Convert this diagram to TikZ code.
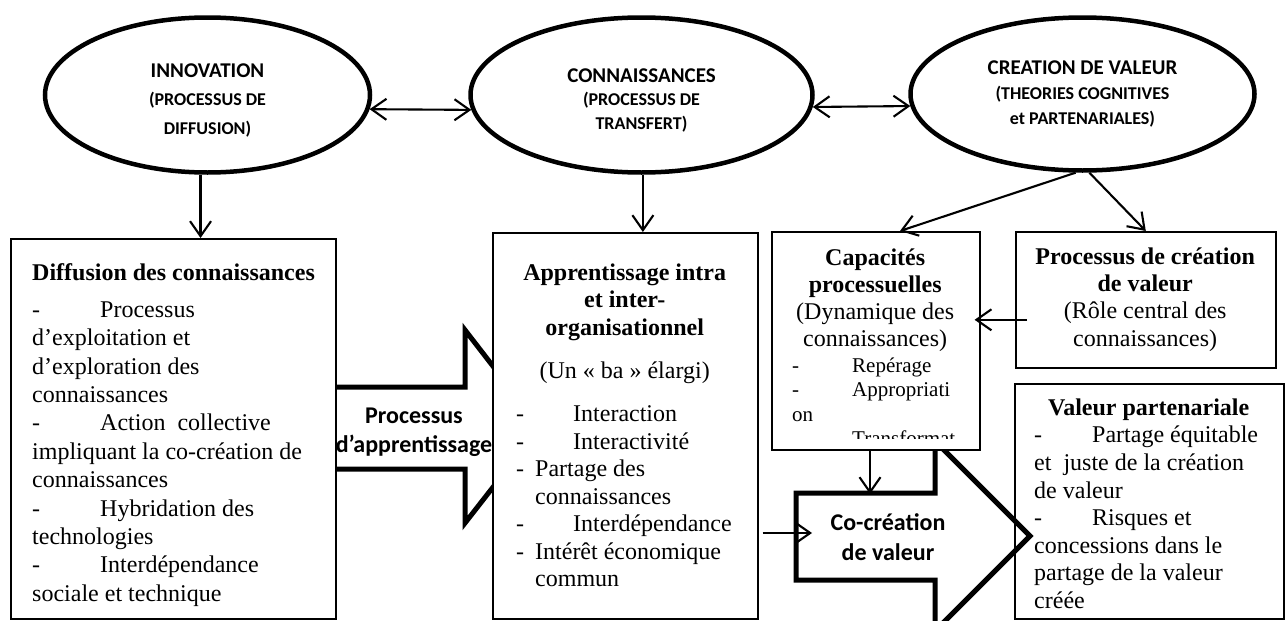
\documentclass[tikz,border=0pt]{standalone}
\usepackage{fontspec}
\setmainfont{Liberation Serif}
\newfontfamily\carl{Carlito}
\usetikzlibrary{arrows.meta,calc,shapes.geometric}
\newcommand\dashtab[1]{\makebox[#1][l]{-}}
\newcommand\sub[1]{{\fontsize{18}{18}\selectfont #1}}
\newcommand\sml[1]{{\fontsize{21}{21}\selectfont #1}}
\begin{document}
\begin{tikzpicture}[x=1pt,y=-1pt,
  >={Straight Barb[length=15pt,width=21pt]},
  ell/.style={draw,ellipse,line width=4.5pt,inner sep=0pt,align=center,font=\carl\bfseries\fontsize{21}{28.5}\selectfont},
  frame/.style={draw,line width=1.6pt,fill=white,inner sep=0pt,anchor=north west},
  txt/.style={inner sep=0pt,anchor=north west,align=left,font=\fontsize{24}{27.5}\selectfont},
  conn/.style={line width=2.1pt},
  bigarrow/.style={line width=5pt,line join=miter,miter limit=10},
  blabel/.style={inner sep=0pt,align=center,font=\carl\bfseries\fontsize{24}{29.5}\selectfont}]
\useasboundingbox (0,0) rectangle (1286,621);
\clip (0,0) rectangle (1286,621);

% ellipses
\node[ell,minimum width=325pt,minimum height=155pt] (e1) at (207.5,95)
  {\rule{0pt}{24pt}INNOVATION\\\sub{(PROCESSUS DE}\\\sub{DIFFUSION)}};
\node[ell,minimum width=342pt,minimum height=155pt,font=\carl\bfseries\fontsize{21}{23.5}\selectfont] (e2) at (641.5,95)
  {\rule{0pt}{24pt}CONNAISSANCES\\\sub{(PROCESSUS DE}\\\sub{TRANSFERT)}};
\node[ell,minimum width=344pt,minimum height=153pt,font=\carl\bfseries\fontsize{21}{25}\selectfont] (e3) at (1082.5,94)
  {CREATION DE VALEUR\\\sub{(THEORIES COGNITIVES}\\\sub{et PARTENARIALES)}};

% block arrows
\draw[bigarrow] (320,387) -- (465,387) -- (465,330) -- (540,427) -- (465,523) -- (465,469) -- (320,469) -- cycle;
\node[blabel] (pa) at (414,432) {Processus\\d’apprentissage};
\draw[bigarrow] (796,493) -- (935,493) -- (935,441) -- (1030,536) -- (935,631) -- (935,580) -- (796,580) -- cycle;

% frames
\node[frame,minimum width=325pt,minimum height=380pt] (b1) at (10,238) {};
\node[frame,minimum width=265pt,minimum height=386pt] (b2) at (492,232) {};
\node[frame,minimum width=208pt,minimum height=218pt] (b3) at (771,231) {};
\node[frame,minimum width=260pt,minimum height=136pt] (b4) at (1015,231) {};
\node[frame,fill=none,minimum width=269pt,minimum height=235pt] (b5) at (1014,383) {};

\node[blabel] (cc) at (888,537) {Co-création\\de valeur};

% box texts
\node[txt,font=\fontsize{24}{28.4}\selectfont] (b1t) at (32,260) {\rule{0pt}{20pt}\textbf{Diffusion des connaissances}\\[8.6pt]
\dashtab{68pt}Processus\\
d’exploitation et\\
d’exploration des\\
connaissances\\
\dashtab{68pt}Action\ \ collective\\
impliquant la co-création de\\
connaissances\\
\dashtab{68pt}Hybridation des\\
technologies\\
\dashtab{68pt}Interdépendance\\
sociale et technique};

\node[txt] (b2t) at (492,260) {\rule{0pt}{20pt}\makebox[265pt]{\bfseries Apprentissage intra}\\
\makebox[265pt]{\bfseries et inter-}\\
\makebox[265pt]{\bfseries organisationnel}\\[15.5pt]
\makebox[265pt]{(Un « ba » élargi)}\\[16pt]
\hspace*{24pt}\dashtab{57pt}Interaction\\
\hspace*{24pt}\dashtab{57pt}Interactivité\\
\hspace*{24pt}\dashtab{19pt}Partage des\\
\hspace*{43pt}connaissances\\
\hspace*{24pt}\dashtab{57pt}Interdépendance\\
\hspace*{24pt}\dashtab{19pt}Intérêt économique\\
\hspace*{43pt}commun};

\begin{scope}
\clip (771,231) rectangle (979,438);
\node[txt,font=\fontsize{24}{27}\selectfont] (b3t) at (771,245) {\rule{0pt}{20pt}\makebox[208pt]{\bfseries Capacités}\\
\makebox[208pt]{\bfseries processuelles}\\
\makebox[208pt]{(Dynamique des}\\
\makebox[208pt]{connaissances)}\\[-1pt]
\sml{\hspace*{21pt}\dashtab{60pt}Repérage}\\[-2.5pt]
\sml{\hspace*{21pt}\dashtab{60pt}Appropriati}\\[-2.5pt]
\sml{\hspace*{21pt}on}\\[-2.5pt]
\sml{\hspace*{21pt}\dashtab{60pt}Transformat}};
\end{scope}

\node[txt,font=\fontsize{24}{27.3}\selectfont] (b4t) at (1015,244) {\rule{0pt}{20pt}\makebox[260pt]{\bfseries Processus de création}\\
\makebox[260pt]{\bfseries de valeur}\\
\makebox[260pt]{(Rôle central des}\\
\makebox[260pt]{connaissances)}};

\node[txt,font=\fontsize{24}{27.6}\selectfont] (b5t) at (1014,395) {\rule{0pt}{20pt}\makebox[269pt]{\bfseries Valeur partenariale}\\
\hspace*{20pt}\dashtab{58pt}Partage équitable\\
\hspace*{20pt}et\ \ juste de la création\\
\hspace*{20pt}de valeur\\
\hspace*{20pt}\dashtab{58pt}Risques et\\
\hspace*{20pt}concessions dans le\\
\hspace*{20pt}partage de la valeur\\
\hspace*{20pt}créée};

% connectors
\draw[conn,<->] (e1.-5.3) -- (e2.185);
\draw[conn,<->] (e2.-4.3) -- (e3.184.7);
\draw[conn,->] (e1.-95) -- (e1.-95 |- b1.north);
\draw[conn,->] (e2.-89) -- (e2.-89 |- b2.north);
\coordinate (b3in) at (900,231);
\draw[conn,->] (e3.-95) -- (b3in);
\draw[conn,->] (e3.-85) -- (b4.north);
\draw[conn,->] ([shift={(12,20)}]b4.west) -- ([shift={(-6,-21)}]b3.east);
\coordinate (ctop) at (870,494);
\draw[conn,->] (b3.south -| ctop) -- (ctop);
\coordinate (cin) at (812,533);
\draw[conn,->] ([xshift=4pt]b2.east |- cin) -- (cin);
\end{tikzpicture}
\end{document}
